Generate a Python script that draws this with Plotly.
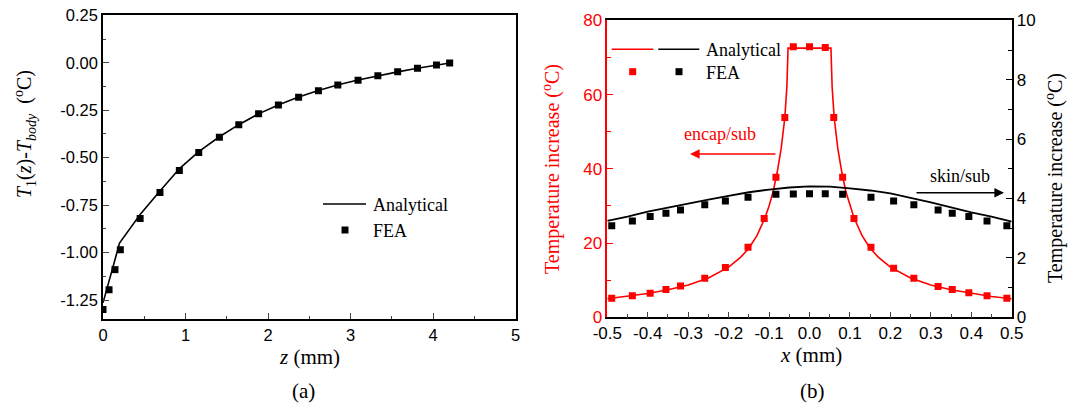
import plotly.graph_objects as go

W, H = 1077, 410

# ---------------- Panel (a) data ----------------
z_fea = [0.0, 0.073, 0.145, 0.21, 0.45, 0.69, 0.925, 1.16, 1.41, 1.645, 1.885, 2.125,
         2.37, 2.61, 2.845, 3.09, 3.33, 3.57, 3.81, 4.04, 4.20]
t_fea = [-1.30, -1.196, -1.09, -0.985, -0.82, -0.684, -0.568, -0.473, -0.392, -0.327,
         -0.269, -0.222, -0.182, -0.147, -0.117, -0.092, -0.068, -0.048, -0.029, -0.012, -0.001]
z_ana = [0.0, 0.05, 0.10, 0.15, 0.20, 0.45, 0.69, 0.93, 1.16, 1.41, 1.65, 1.89, 2.13,
         2.37, 2.61, 2.85, 3.09, 3.33, 3.57, 3.81, 4.04, 4.22]
t_ana = [-1.265, -1.19, -1.11, -1.03, -0.95, -0.80, -0.676, -0.556, -0.468, -0.390, -0.325,
         -0.268, -0.221, -0.181, -0.146, -0.116, -0.091, -0.068, -0.048, -0.029, -0.012, 0.0]
a_yticks = [0.25, 0.0, -0.25, -0.5, -0.75, -1.0, -1.25]
a_yticklabels = ["0.25", "0.00", "-0.25", "-0.50", "-0.75", "-1.00", "-1.25"]

# ---------------- Panel (b) data ----------------
x_fea = [-0.489, -0.438, -0.394, -0.355, -0.319, -0.259, -0.208, -0.152, -0.112, -0.083,
         -0.061, -0.040, 0.0, 0.039, 0.060, 0.082, 0.110, 0.152, 0.208, 0.258, 0.318,
         0.353, 0.394, 0.439, 0.488]
encap_fea = [5.1, 5.8, 6.5, 7.5, 8.4, 10.5, 13.4, 18.9, 26.6, 37.7, 53.8, 72.9, 72.9, 72.7,
             53.8, 37.7, 26.6, 18.9, 13.2, 10.5, 8.3, 7.5, 6.6, 5.8, 5.1]
x_encap_ana = [-0.5, -0.45, -0.4, -0.35, -0.3, -0.25, -0.2, -0.17, -0.15, -0.13, -0.11, -0.1,
               -0.09, -0.08, -0.07, -0.061, -0.056, -0.053, 0.0, 0.053, 0.056, 0.061, 0.07,
               0.08, 0.09, 0.1, 0.11, 0.13, 0.15, 0.17, 0.2, 0.25, 0.3, 0.35, 0.4, 0.45, 0.5]
encap_ana = [5.0, 5.6, 6.4, 7.4, 8.7, 10.6, 13.5, 16.2, 18.6, 22.0, 26.8, 30.0, 33.8, 39.0,
             45.5, 53.8, 62.0, 72.5, 72.5, 72.5, 62.0, 53.8, 45.5, 39.0, 33.8, 30.0, 26.8,
             22.0, 18.6, 16.2, 13.5, 10.6, 8.7, 7.4, 6.4, 5.6, 5.0]
x_skin_fea = [-0.489, -0.438, -0.394, -0.355, -0.319, -0.259, -0.208, -0.152, -0.083, -0.040,
              0.0, 0.039, 0.082, 0.152, 0.208, 0.258, 0.318, 0.353, 0.394, 0.439, 0.488]
skin_fea = [3.08, 3.24, 3.39, 3.50, 3.61, 3.79, 3.92, 4.04, 4.14, 4.15, 4.16, 4.16, 4.14,
            4.04, 3.92, 3.79, 3.61, 3.50, 3.39, 3.24, 3.08]
x_skin_ana = [-0.5, -0.45, -0.4, -0.35, -0.3, -0.25, -0.2, -0.15, -0.1, -0.05, 0.0, 0.05,
              0.1, 0.15, 0.2, 0.25, 0.3, 0.35, 0.4, 0.45, 0.5]
skin_ana = [3.25, 3.39, 3.56, 3.70, 3.82, 3.96, 4.09, 4.21, 4.30, 4.37, 4.41, 4.40, 4.34,
            4.27, 4.17, 4.03, 3.87, 3.70, 3.53, 3.39, 3.22]
b_xticks = [-0.5, -0.4, -0.3, -0.2, -0.1, 0.0, 0.1, 0.2, 0.3, 0.4, 0.5]
b_xticklabels = ["-0.5", "-0.4", "-0.3", "-0.2", "-0.1", "0.0", "0.1", "0.2", "0.3", "0.4", "0.5"]

RED = "#ff0000"
SERIF = "Liberation Serif, Times New Roman, serif"
SANS = "Liberation Sans, Arial, sans-serif"


def px(x):
    return x / W


def py(y):
    return 1 - y / H


fig = go.Figure()

# panel (a)
fig.add_trace(go.Scatter(x=z_ana, y=t_ana, mode="lines", line=dict(color="black", width=1.6),
                         xaxis="x", yaxis="y", showlegend=False))
fig.add_trace(go.Scatter(x=z_fea, y=t_fea, mode="markers",
                         marker=dict(symbol="square", size=7, color="black"),
                         xaxis="x", yaxis="y", showlegend=False))
# panel (b)
fig.add_trace(go.Scatter(x=x_encap_ana, y=encap_ana, mode="lines", line=dict(color=RED, width=1.6),
                         xaxis="x2", yaxis="y2", showlegend=False))
fig.add_trace(go.Scatter(x=x_fea, y=encap_fea, mode="markers",
                         marker=dict(symbol="square", size=7, color=RED),
                         xaxis="x2", yaxis="y2", showlegend=False))
fig.add_trace(go.Scatter(x=x_skin_ana, y=skin_ana, mode="lines", line=dict(color="black", width=1.8),
                         xaxis="x2", yaxis="y3", showlegend=False))
fig.add_trace(go.Scatter(x=x_skin_fea, y=skin_fea, mode="markers",
                         marker=dict(symbol="square", size=7, color="black"),
                         xaxis="x2", yaxis="y3", showlegend=False))

common = dict(showgrid=False, zeroline=False, showline=True, linewidth=1.5, automargin=False,
              ticks="inside", ticklen=6, tickwidth=1.3)

fig.update_layout(
    template="none",
    width=W, height=H,
    margin=dict(l=0, r=0, t=0, b=0, pad=0),
    paper_bgcolor="white", plot_bgcolor="white",
    showlegend=False,
    xaxis=dict(domain=[px(103), px(515.7)], range=[0, 5], dtick=1, tick0=0,
               linecolor="black", mirror=True, anchor="y",
               minor=dict(ticks="inside", dtick=0.5, ticklen=3.5, tickwidth=1.2),
               tickfont=dict(family=SANS, size=16.5, color="black"), **common),
    yaxis=dict(domain=[py(319), py(15.3)], range=[-1.35, 0.25],
               tickmode="array", tickvals=a_yticks, ticktext=a_yticklabels,
               linecolor="black", mirror=True, anchor="x",
               minor=dict(ticks="inside", dtick=0.125, tick0=0, ticklen=3.5, tickwidth=1.2),
               tickfont=dict(family=SANS, size=16.5, color="black"), **common),
    xaxis2=dict(domain=[px(607.3), px(1011.7)], range=[-0.5, 0.5],
                tickmode="array", tickvals=b_xticks, ticktext=b_xticklabels,
                linecolor="black", mirror=True, anchor="y2",
                minor=dict(ticks="inside", dtick=0.05, tick0=0, ticklen=3.5, tickwidth=1.2),
                tickfont=dict(family=SANS, size=17, color="black"), **common),
    yaxis2=dict(domain=[py(317.3), py(20.3)], range=[0, 80], dtick=20, tick0=0,
                linecolor=RED, tickcolor=RED, anchor="x2",
                minor=dict(ticks="inside", dtick=10, ticklen=3.5, tickwidth=1.2, tickcolor=RED),
                tickfont=dict(family=SANS, size=17, color=RED), **common),
    yaxis3=dict(range=[0, 10], dtick=2, tick0=0, overlaying="y2", side="right", anchor="x2",
                linecolor="black", tickcolor="black",
                minor=dict(ticks="inside", dtick=1, ticklen=3.5, tickwidth=1.2),
                tickfont=dict(family=SANS, size=17, color="black"), **common),
)

ann = []


def text(x, y, s, size=18, color="black", angle=0, xanchor="center"):
    ann.append(dict(x=px(x), y=py(y), xref="paper", yref="paper", text=s, showarrow=False,
                    xanchor=xanchor, yanchor="middle", textangle=angle,
                    font=dict(family=SERIF, size=size, color=color)))


# axis titles
text(25, 134, "<i>T</i><sub>1</sub>(<i>z</i>)-<i>T</i><sub><i>body</i></sub>  (<sup>o</sup>C)",
     size=20, angle=-90)
text(309, 357, "<i>z</i> (mm)", size=21)
text(303, 391, "(a)", size=21)
text(811, 355, "<i>x</i> (mm)", size=21)
text(812, 391, "(b)", size=21)
text(552, 169, "Temperature increase (<sup>o</sup>C)", size=20, color=RED, angle=-90)
text(1055, 178, "Temperature increase (<sup>o</sup>C)", size=20, angle=-90)

# legend (a)
text(371, 205, "Analytical", xanchor="left")
text(371, 231, "FEA", xanchor="left")
# legend (b)
text(704, 50, "Analytical", xanchor="left")
text(704, 73, "FEA", xanchor="left")

# annotation labels
text(720, 134, "encap/sub", color=RED)
text(960, 176, "skin/sub")

# arrows
ann.append(dict(x=px(690), y=py(154), xref="paper", yref="paper", text="", showarrow=True,
                ax=87, ay=0, arrowhead=2, arrowsize=1.2, arrowwidth=1.6, arrowcolor=RED))
ann.append(dict(x=px(1004), y=py(192.7), xref="paper", yref="paper", text="", showarrow=True,
                ax=-89, ay=0, arrowhead=2, arrowsize=1.2, arrowwidth=1.6, arrowcolor="black"))

fig.update_layout(annotations=ann)

shapes = []


def hline(x0, x1, y, color, w=1.6):
    shapes.append(dict(type="line", xref="paper", yref="paper", x0=px(x0), x1=px(x1),
                       y0=py(y), y1=py(y), line=dict(color=color, width=w)))


def sq(x, y, color, s=7):
    shapes.append(dict(type="rect", xref="paper", yref="paper", xsizemode="pixel",
                       ysizemode="pixel", xanchor=px(x), yanchor=py(y),
                       x0=-s / 2, x1=s / 2, y0=-s / 2, y1=s / 2,
                       fillcolor=color, line=dict(width=0)))


hline(323, 366, 204, "black")
sq(345, 230, "black")
hline(611.7, 653.3, 49.3, RED)
hline(658.3, 699.3, 49.3, "black")
sq(632.7, 71.7, RED)
sq(679, 71.7, "black")

fig.update_layout(shapes=shapes)

fig.write_html("out.html")
